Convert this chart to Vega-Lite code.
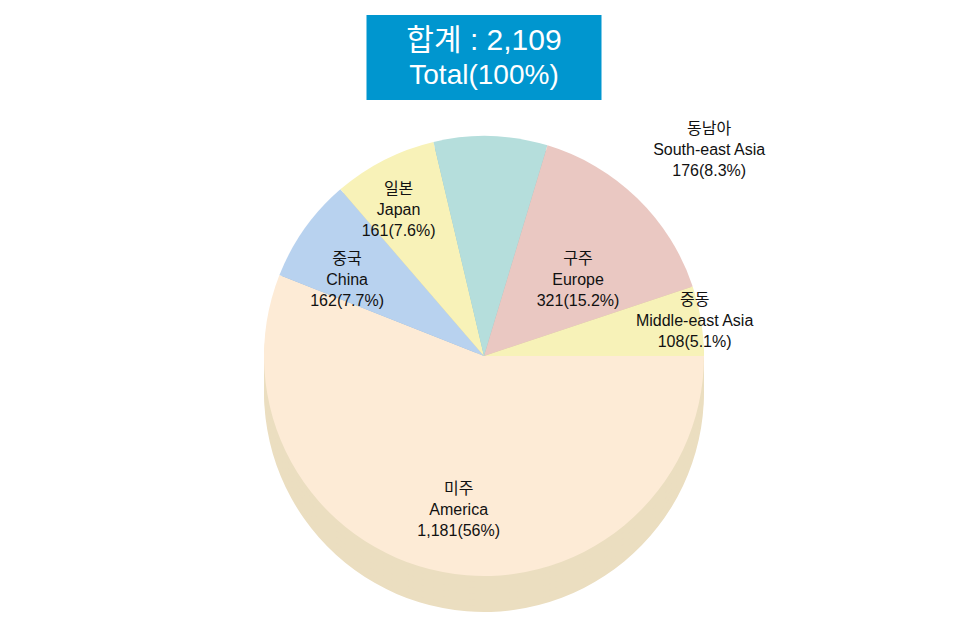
{
  "$schema": "https://vega.github.io/schema/vega-lite/v6.json",
  "padding": {"left": 0, "right": 0, "top": 15, "bottom": 0},
  "background": "white",
  "config": {"view": {"stroke": null}},
  "center": true,
  "bounds": "flush",
  "spacing": 8,
  "datasets": {
    "regions": [
      {"idx": 1, "en": "America", "value": 1181, "label": "미주\nAmerica\n1,181(56%)"},
      {"idx": 2, "en": "China", "value": 162, "label": "중국\nChina\n162(7.7%)"},
      {"idx": 3, "en": "Japan", "value": 161, "label": "일본\nJapan\n161(7.6%)"},
      {"idx": 4, "en": "South-east Asia", "value": 176, "label": "동남아\nSouth-east Asia\n176(8.3%)"},
      {"idx": 5, "en": "Europe", "value": 321, "label": "구주\nEurope\n321(15.2%)"},
      {"idx": 6, "en": "Middle-east Asia", "value": 108, "label": "중동\nMiddle-east Asia\n108(5.1%)"}
    ],
    "total": [
      {"line": 1, "label": "합계  :  2,109"},
      {"line": 2, "label": "Total(100%)"}
    ]
  },
  "vconcat": [
    {
      "width": 235,
      "height": 85,
      "view": {"fill": "#0096CF", "stroke": null},
      "data": {"name": "total"},
      "layer": [
        {
          "transform": [{"filter": "datum.line == 1"}],
          "mark": {"type": "text", "color": "white", "fontSize": 30, "font": "Liberation Sans, Noto Sans CJK KR", "dy": -17},
          "encoding": {"text": {"field": "label"}}
        },
        {
          "transform": [{"filter": "datum.line == 2"}],
          "mark": {"type": "text", "color": "white", "fontSize": 28, "font": "Liberation Sans, Noto Sans CJK KR", "dy": 18},
          "encoding": {"text": {"field": "label"}}
        }
      ]
    },
    {
      "width": 968,
      "height": 496,
      "data": {"name": "regions"},
      "encoding": {
        "theta": {"field": "value", "type": "quantitative", "stack": true, "scale": {"range": [1.5708, 7.854]}},
        "order": {"field": "idx", "type": "quantitative"}
      },
      "layer": [
        {"mark": {"type": "arc", "radius": 220, "yOffset": 36},
         "encoding": {"fill": {"field": "en", "type": "nominal", "legend": null,
           "scale": {"domain": ["America", "China", "Japan", "South-east Asia", "Europe", "Middle-east Asia"], "range": ["#EBDEC0", "#9BB5D0", "#DDD49C", "#98C2C2", "#CFAAA4", "#E4DCA0"]}}}},
        {"mark": {"type": "arc", "radius": 220, "yOffset": 30},
         "encoding": {"fill": {"field": "en", "type": "nominal", "legend": null}}},
        {"mark": {"type": "arc", "radius": 220, "yOffset": 24},
         "encoding": {"fill": {"field": "en", "type": "nominal", "legend": null}}},
        {"mark": {"type": "arc", "radius": 220, "yOffset": 18},
         "encoding": {"fill": {"field": "en", "type": "nominal", "legend": null}}},
        {"mark": {"type": "arc", "radius": 220, "yOffset": 12},
         "encoding": {"fill": {"field": "en", "type": "nominal", "legend": null}}},
        {"mark": {"type": "arc", "radius": 220, "yOffset": 6},
         "encoding": {"fill": {"field": "en", "type": "nominal", "legend": null}}},
        {"mark": {"type": "arc", "radius": 220},
         "encoding": {"color": {"field": "en", "type": "nominal", "legend": null,
           "scale": {"domain": ["America", "China", "Japan", "South-east Asia", "Europe", "Middle-east Asia"], "range": ["#FDEBD6", "#B8D2EF", "#F8F2B8", "#B5DEDC", "#EAC8C2", "#F7F2B8"]}}}},
        {"mark": {"type": "text", "radius": 135, "lineBreak": "\n", "fontSize": 16, "lineHeight": 21, "font": "Liberation Sans, Noto Sans CJK KR", "color": "#111111"},
         "encoding": {"text": {"condition": {"test": "datum.en == 'America' || datum.en == 'Europe'", "field": "label"}, "value": ""}}},
        {"mark": {"type": "text", "radius": 168, "lineBreak": "\n", "fontSize": 16, "lineHeight": 21, "font": "Liberation Sans, Noto Sans CJK KR", "color": "#111111"},
         "encoding": {"text": {"condition": {"test": "datum.en == 'China'", "field": "label"}, "value": ""}}},
        {"mark": {"type": "text", "radius": 188, "lineBreak": "\n", "fontSize": 16, "lineHeight": 21, "font": "Liberation Sans, Noto Sans CJK KR", "color": "#111111"},
         "encoding": {"text": {"condition": {"test": "datum.en == 'Japan'", "field": "label"}, "value": ""}}},
        {"mark": {"type": "text", "radius": 218, "thetaOffset": -0.1, "lineBreak": "\n", "fontSize": 16, "lineHeight": 21, "font": "Liberation Sans, Noto Sans CJK KR", "color": "#111111"},
         "encoding": {"text": {"condition": {"test": "datum.en == 'Middle-east Asia'", "field": "label"}, "value": ""}}},
        {"mark": {"type": "text", "radius": 320, "thetaOffset": 0.75, "lineBreak": "\n", "fontSize": 16, "lineHeight": 21, "font": "Liberation Sans, Noto Sans CJK KR", "color": "#111111"},
         "encoding": {"text": {"condition": {"test": "datum.en == 'South-east Asia'", "field": "label"}, "value": ""}}}
      ]
    }
  ]
}
